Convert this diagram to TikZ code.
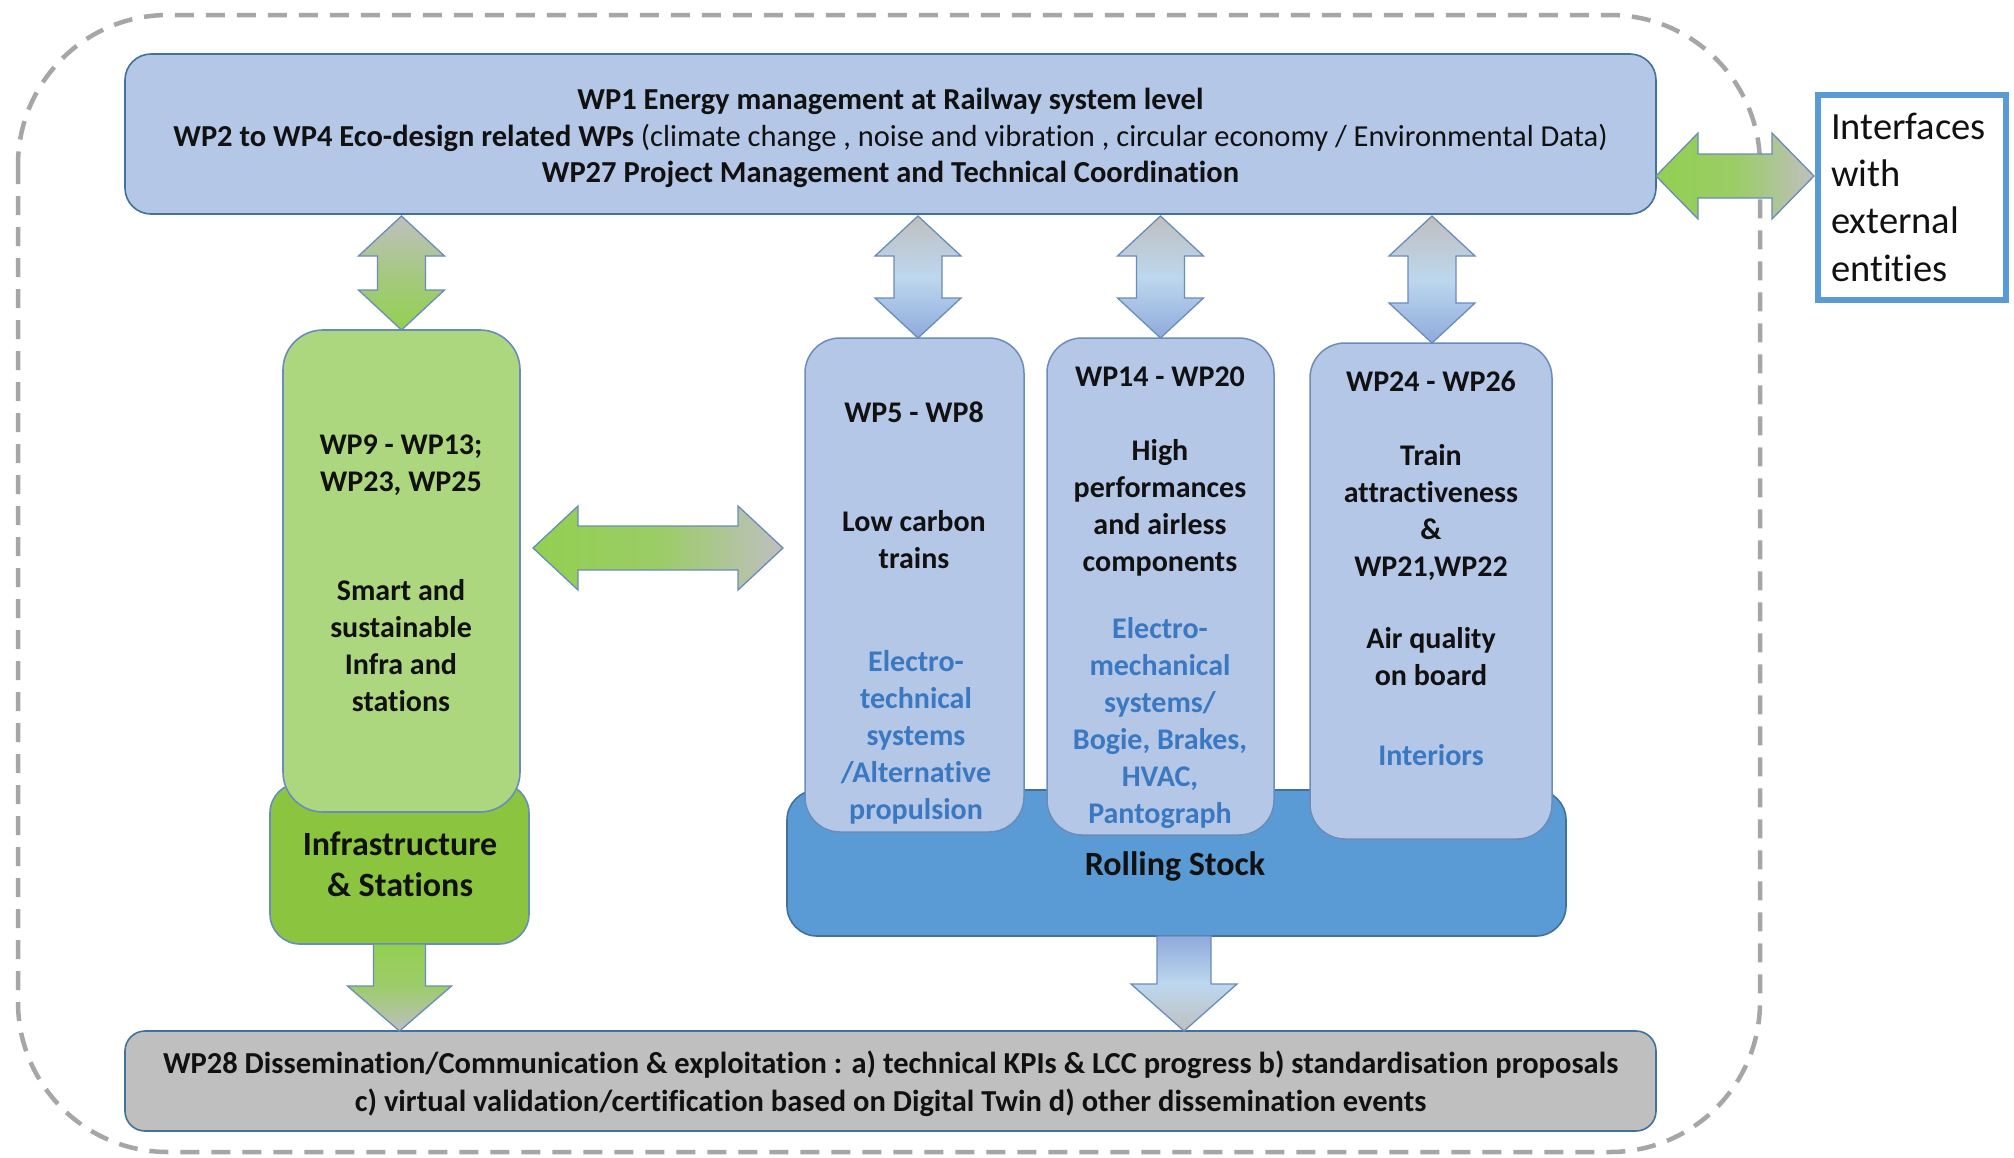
\documentclass[tikz,border=0pt]{standalone}
\usepackage{fontspec}
\setmainfont{Carlito}[Ligatures=NoCommon]
\usetikzlibrary{calc}
\definecolor{topfill}{HTML}{B4C7E7}
\definecolor{bord}{HTML}{41719C}
\definecolor{colbord}{HTML}{6A8CBA}
\definecolor{gcol}{HTML}{ADD77F}
\definecolor{ginf}{HTML}{8BC53F}
\definecolor{rsfill}{HTML}{5B9BD5}
\definecolor{grayf}{HTML}{BFBFBF}
\definecolor{gr}{HTML}{92D050}
\definecolor{lblue}{HTML}{BDD7EE}
\definecolor{mblue}{HTML}{8FAADC}
\definecolor{bluetxt}{HTML}{3A78C2}
\definecolor{dashc}{HTML}{A6A6A6}
\definecolor{ifb}{HTML}{5B9BD5}
\definecolor{txtc}{HTML}{111111}
\newcommand\fstrut{\rule{0pt}{0.8em}}
% vertical double arrow: style, top tip, bottom tip, shaft half, head half, head length
\newcommand\vdarrow[6]{%
  \path[#1] let \p1=(#2), \p2=(#3) in
    (\x1,\y1) -- (\x1+#5,\y1-#6) -- (\x1+#4,\y1-#6) -- (\x1+#4,\y2+#6) -- (\x1+#5,\y2+#6)
    -- (\x1,\y2) -- (\x1-#5,\y2+#6) -- (\x1-#4,\y2+#6) -- (\x1-#4,\y1-#6) -- (\x1-#5,\y1-#6) -- cycle;}
% horizontal double arrow: style, left tip, right tip, shaft half, head half, head length
\newcommand\hdarrow[6]{%
  \path[#1] let \p1=(#2), \p2=(#3) in
    (\x1,\y1) -- (\x1+#6,\y1+#5) -- (\x1+#6,\y1+#4) -- (\x2-#6,\y1+#4) -- (\x2-#6,\y1+#5)
    -- (\x2,\y1) -- (\x2-#6,\y1-#5) -- (\x2-#6,\y1-#4) -- (\x1+#6,\y1-#4) -- (\x1+#6,\y1-#5) -- cycle;}
% single down arrow: style, top, tip, shaft half, head half, head length
\newcommand\sdarrow[6]{%
  \path[#1] let \p1=(#2), \p2=(#3) in
    (\x1-#4,\y1) -- (\x1+#4,\y1) -- (\x1+#4,\y2+#6) -- (\x1+#5,\y2+#6) -- (\x1,\y2)
    -- (\x1-#5,\y2+#6) -- (\x1-#4,\y2+#6) -- cycle;}
\begin{document}
\begin{tikzpicture}[x=1pt,y=-1pt,
  box/.style={draw=bord, line width=1.6pt, inner sep=0pt, outer sep=0pt},
  colbox/.style={draw=colbord, line width=1.5pt, fill=topfill, inner sep=0pt, outer sep=0pt, rounded corners=35},
  arr/.style={draw=colbord, line width=1.3pt},
  coltxt/.style={anchor=north, inner sep=0pt, align=center, text=txtc, font=\bfseries\fontsize{30}{37}\selectfont},
  bigtxt/.style={anchor=north, inner sep=0pt, align=center, text=txtc, font=\bfseries\fontsize{34}{41}\selectfont}
]
\useasboundingbox (0,0) rectangle (2014,1157);
\fill[white] (0,0) rectangle (2014,1157);
% outer dashed frame
\draw[dashc, line width=4.5pt, dash pattern=on 19pt off 12pt, rounded corners=150] (18,15) rectangle (1760,1152);

% boxes
\node[box, fill=topfill, minimum width=1531, minimum height=160, rounded corners=26] (top) at (890.5,134) {};
\node[draw=ifb, line width=6pt, fill=white, minimum width=188, minimum height=205, inner sep=0pt] (ext) at (1912,197.5) {};
\node[box, fill=rsfill, minimum width=779, minimum height=146, rounded corners=30] (rs) at (1176.5,863) {};
\node[colbox, minimum width=219, minimum height=494] (c5) at (914.5,585) {};
\node[colbox, minimum width=227, minimum height=497] (c14) at (1160.5,586.5) {};
\node[colbox, minimum width=242, minimum height=496] (c24) at (1431,591) {};
\node[box, draw=colbord, fill=ginf, minimum width=259, minimum height=161, rounded corners=30] (inf) at (399.5,863.5) {};
\node[box, draw=colbord, fill=gcol, minimum width=237, minimum height=482, rounded corners=40] (g) at (401.5,571) {};
\node[box, fill=grayf, minimum width=1531, minimum height=100, rounded corners=20] (wp28) at (890.5,1081) {};

% connector end points
\coordinate (a1t) at ($(g.north |- top.south)+(0,2)$);
\coordinate (a2t) at ($(c5.north |- top.south)+(3.5,2)$);
\coordinate (a2b) at ($(c5.north)+(3.5,0)$);
\coordinate (a3t) at ($(c14.north |- top.south)+(0,2)$);
\coordinate (a4t) at ($(c24.north |- top.south)+(1,2)$);
\coordinate (e1) at (1656,176);
\coordinate (e2) at (1814,176);
\coordinate (h1) at (533,548);
\coordinate (h2) at (783,548);
\coordinate (d1b) at (inf.south |- wp28.north);
\coordinate (d2t) at (1184,936);
\coordinate (d2b) at (1184,1031);

% arrows
\vdarrow{arr, top color=grayf, bottom color=gr, middle color=gr!55!grayf}{a1t}{g.north}{24pt}{43pt}{40pt}
\vdarrow{arr, top color=grayf, bottom color=mblue, middle color=lblue}{a2t}{a2b}{24pt}{43pt}{40pt}
\vdarrow{arr, top color=grayf, bottom color=mblue, middle color=lblue}{a3t}{c14.north}{24pt}{43pt}{40pt}
\vdarrow{arr, top color=grayf, bottom color=mblue, middle color=lblue}{a4t}{c24.north}{24pt}{43pt}{40pt}
\hdarrow{arr, left color=gr, right color=grayf, middle color=gr!80!grayf}{e1}{e2}{22pt}{43pt}{42pt}
\hdarrow{arr, left color=gr, right color=grayf, middle color=gr!80!grayf}{h1}{h2}{22pt}{42pt}{45pt}
\sdarrow{arr, top color=gr, bottom color=grayf, middle color=gr!75!grayf}{inf.south}{d1b}{26pt}{52pt}{45pt}
\sdarrow{arr, top color=mblue, bottom color=grayf, middle color=lblue}{d2t}{d2b}{27pt}{53pt}{47pt}

% texts
\node[anchor=north, inner sep=0pt, align=center, text=txtc, font=\fontsize{30.5}{36.5}\selectfont] (toptxt) at (890.5,85)
  {\fstrut\textbf{WP1 Energy management at Railway system level}\\
   \textbf{WP2 to WP4 Eco-design related WPs} (climate change , noise and vibration , circular economy / Environmental Data)\\
   \textbf{WP27 Project Management and Technical Coordination}};
\node[anchor=north west, inner sep=0pt, align=left, text=txtc, font=\fontsize{38.5}{47.4}\selectfont] (exttxt) at (1831,108)
  {\fstrut Interfaces\\with\\external\\entities};
\node[coltxt] (g1) at (401,430) {\fstrut WP9 - WP13;\\WP23, WP25};
\node[coltxt] (g2) at (401,576) {\fstrut Smart and\\sustainable\\Infra and\\stations};
\node[bigtxt] (inftxt) at (400,828) {\fstrut Infrastructure\\\& Stations};
\node[coltxt] (c5a) at (914,398) {\fstrut WP5 - WP8};
\node[coltxt] (c5b) at (914,507) {\fstrut Low carbon\\trains};
\node[coltxt, text=bluetxt] (c5c) at (916,647) {\fstrut Electro-\\technical\\systems\\/Alternative\\propulsion};
\node[coltxt] (c14a) at (1160,362) {\fstrut WP14 - WP20};
\node[coltxt] (c14b) at (1160,436) {\fstrut High\\performances\\and airless\\components};
\node[coltxt, text=bluetxt] (c14c) at (1160,614) {\fstrut Electro-\\mechanical\\systems/\\Bogie, Brakes,\\HVAC,\\Pantograph};
\node[coltxt] (c24a) at (1431,367) {\fstrut WP24 - WP26};
\node[coltxt] (c24b) at (1431,441) {\fstrut Train\\attractiveness\\\&\\WP21,WP22};
\node[coltxt] (c24c) at (1431,624) {\fstrut Air quality\\on board};
\node[coltxt, text=bluetxt] (c24d) at (1431,741) {\fstrut Interiors};
\node[bigtxt] (rstxt) at (1175,848) {\fstrut Rolling Stock};
\node[anchor=north, inner sep=0pt, align=center, text=txtc, font=\bfseries\fontsize{30.5}{38}\selectfont] (wp28txt) at (890.5,1049)
  {\fstrut WP28 Dissemination/Communication \& exploitation : a) technical KPIs \& LCC progress b) standardisation proposals\\
   c) virtual validation/certification based on Digital Twin d) other dissemination events};
\end{tikzpicture}
\end{document}
